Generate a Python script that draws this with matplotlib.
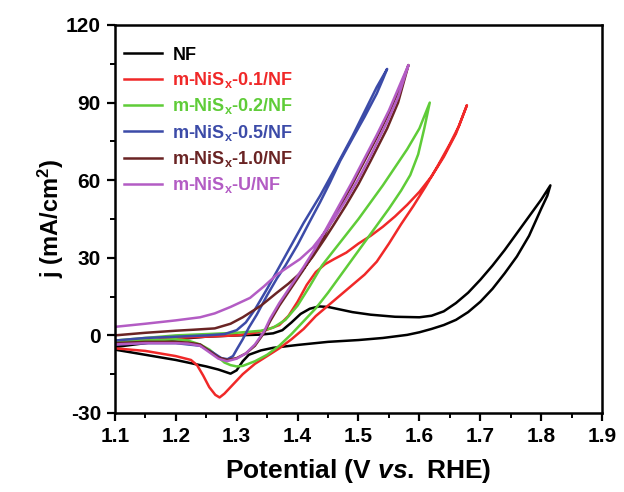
import numpy as np
import matplotlib
matplotlib.use("Agg")
import matplotlib.pyplot as plt
from matplotlib.ticker import MultipleLocator

plt.rcParams['font.family'] = ['Liberation Sans', 'DejaVu Sans']
plt.rcParams['mathtext.fontset'] = 'custom'
plt.rcParams['mathtext.rm'] = 'Liberation Sans:bold'
plt.rcParams['mathtext.it'] = 'Liberation Sans:bold:italic'
plt.rcParams['mathtext.bf'] = 'Liberation Sans:bold'
plt.rcParams['axes.unicode_minus'] = False

# --- dati (scansione andata + ritorno) ---
# NF
v_nf = [1.10, 1.15, 1.20, 1.25, 1.30, 1.34, 1.36, 1.375, 1.39, 1.405, 1.42, 1.435, 1.45, 1.47,
        1.49, 1.52, 1.56, 1.60, 1.62, 1.64, 1.66, 1.68, 1.70, 1.72, 1.74, 1.76, 1.78, 1.80, 1.815,
        1.81, 1.80, 1.78, 1.76, 1.74, 1.72, 1.70, 1.68, 1.66, 1.64, 1.62, 1.60, 1.58, 1.54, 1.50,
        1.45, 1.40, 1.36, 1.34, 1.32, 1.31, 1.30, 1.29, 1.27, 1.25, 1.20, 1.15, 1.10]
j_nf = [-4.5, -3.0, -1.5, -0.5, 0.0, 0.3, 0.8, 2.0, 5.0, 8.3, 10.3, 11.2, 11.0, 10.0,
        9.0, 8.0, 7.2, 7.0, 7.6, 9.3, 12.5, 16.5, 21.5, 27.0, 33.0, 39.5, 46.0, 52.5, 58.0,
        54.0, 49.0, 38.5, 30.5, 24.0, 18.0, 13.0, 9.0, 6.0, 4.0, 2.5, 1.2, 0.2, -1.0, -1.8,
        -2.5, -3.7, -4.8, -5.8, -7.5, -10.0, -13.5, -14.8, -13.2, -12.0, -9.5, -7.5, -5.5]

# m-NiSx-0.1/NF
v_01 = [1.10, 1.15, 1.20, 1.25, 1.30, 1.33, 1.35, 1.37, 1.385, 1.40, 1.415, 1.43, 1.445, 1.46,
        1.48, 1.50, 1.52, 1.54, 1.56, 1.58, 1.60, 1.62, 1.64, 1.66, 1.678,
        1.665, 1.65, 1.63, 1.61, 1.59, 1.57, 1.55, 1.53, 1.51, 1.49, 1.47, 1.45, 1.43, 1.41,
        1.39, 1.37, 1.35, 1.33, 1.31, 1.30, 1.29, 1.28, 1.272, 1.265, 1.255, 1.245, 1.235,
        1.225, 1.20, 1.15, 1.10]
j_01 = [-3.0, -2.0, -1.0, -0.5, 0.0, 1.0, 2.2, 4.0, 7.5, 13.0, 19.5, 24.5, 27.5, 29.5,
        32.0, 35.5, 38.5, 42.0, 46.0, 50.5, 55.5, 61.5, 69.0, 78.0, 89.0,
        81.0, 74.0, 65.5, 57.5, 50.0, 43.0, 35.5, 28.5, 23.5, 19.5, 15.5, 11.5, 7.5, 2.5,
        -1.5, -5.0, -8.0, -11.0, -15.0, -17.5, -20.0, -22.5, -24.0, -23.0, -20.0, -15.5, -11.5,
        -9.5, -8.0, -6.0, -5.0]

# m-NiSx-0.2/NF
v_02 = [1.10, 1.15, 1.20, 1.25, 1.30, 1.34, 1.36, 1.38, 1.40, 1.42, 1.44, 1.46, 1.48, 1.50,
        1.52, 1.54, 1.56, 1.58, 1.60, 1.617,
        1.608, 1.598, 1.585, 1.57, 1.55, 1.53, 1.51, 1.49, 1.47, 1.45, 1.43, 1.41, 1.39, 1.37,
        1.35, 1.33, 1.31, 1.30, 1.29, 1.28, 1.27, 1.256, 1.24, 1.22, 1.20, 1.15, 1.10]
j_02 = [-2.0, -1.0, 0.0, 0.5, 1.0, 1.8, 3.0, 6.0, 11.5, 19.0, 27.0, 33.0, 39.0, 45.0,
        51.5, 58.0, 65.0, 72.0, 80.0, 90.0,
        80.0, 70.0, 62.0, 56.0, 49.0, 42.5, 36.0, 29.5, 23.0, 16.5, 10.5, 5.5, 0.5, -4.0,
        -7.5, -10.0, -11.8, -12.0, -11.5, -10.5, -8.5, -5.6, -3.5, -2.0, -1.5, -2.0, -3.0]

# m-NiSx-0.5/NF
v_05 = [1.10, 1.15, 1.20, 1.25, 1.28, 1.30, 1.315, 1.33, 1.35, 1.37, 1.39, 1.41, 1.437, 1.465,
        1.49, 1.51, 1.53, 1.547,
        1.54, 1.53, 1.51, 1.491, 1.47, 1.453, 1.437, 1.42, 1.40, 1.38, 1.366, 1.35, 1.333,
        1.32, 1.31, 1.30, 1.294, 1.285, 1.275, 1.26, 1.24, 1.20, 1.15, 1.10]
j_05 = [-2.0, -1.0, -0.5, 0.0, 0.5, 2.0, 5.0, 10.0, 18.0, 26.5, 35.0, 43.5, 54.0, 66.0,
        77.0, 86.5, 96.0, 103.0,
        99.0, 93.5, 84.5, 76.5, 67.5, 59.0, 51.5, 44.0, 35.0, 27.0, 22.0, 15.5, 8.0,
        3.0, -1.5, -5.5, -8.0, -9.2, -8.8, -6.5, -4.0, -3.0, -3.0, -3.5]

# m-NiSx-1.0/NF
v_10 = [1.10, 1.15, 1.20, 1.23, 1.264, 1.29, 1.31, 1.34, 1.366, 1.385, 1.404, 1.425, 1.445,
        1.46, 1.48, 1.50, 1.52, 1.547, 1.565, 1.582,
        1.57, 1.55, 1.53, 1.51, 1.49, 1.47, 1.45, 1.43, 1.41, 1.39, 1.37, 1.355, 1.345, 1.33,
        1.315, 1.30, 1.284, 1.27, 1.255, 1.24, 1.22, 1.20, 1.15, 1.10]
j_10 = [0.0, 1.0, 1.8, 2.2, 2.7, 4.5, 7.0, 11.5, 16.5, 20.0, 24.0, 30.5, 37.5,
        43.0, 50.5, 58.5, 67.5, 80.0, 90.0, 104.5,
        97.0, 86.0, 76.5, 67.5, 58.5, 50.0, 41.5, 33.0, 25.5, 18.5, 11.5, 5.5, 1.0, -4.0,
        -7.0, -8.8, -9.5, -8.5, -6.0, -3.5, -2.8, -2.5, -2.5, -3.0]

# m-NiSx-U/NF
v_u = [1.10, 1.15, 1.20, 1.24, 1.264, 1.29, 1.322, 1.345, 1.366, 1.385, 1.404, 1.425, 1.445,
       1.46, 1.48, 1.50, 1.52, 1.547, 1.565, 1.582,
       1.57, 1.55, 1.53, 1.51, 1.49, 1.47, 1.45, 1.43, 1.41, 1.39, 1.37, 1.355, 1.345, 1.33,
       1.315, 1.30, 1.284, 1.27, 1.255, 1.24, 1.22, 1.20, 1.15, 1.10]
j_u = [3.3, 4.5, 5.8, 7.0, 8.5, 11.0, 14.5, 19.0, 23.5, 26.5, 29.5, 34.0, 40.0,
       45.0, 52.5, 60.5, 69.5, 82.5, 92.0, 104.5,
       98.0, 87.0, 77.5, 68.5, 59.5, 51.0, 42.5, 34.0, 26.5, 19.5, 12.5, 6.5, 1.5, -3.5,
       -7.0, -9.0, -10.0, -9.0, -6.5, -4.0, -3.2, -3.0, -3.0, -3.5]

labels = ['NF', 'm-NiS$_\\mathregular{x}$-0.1/NF', 'm-NiS$_\\mathregular{x}$-0.2/NF',
          'm-NiS$_\\mathregular{x}$-0.5/NF', 'm-NiS$_\\mathregular{x}$-1.0/NF',
          'm-NiS$_\\mathregular{x}$-U/NF']
colori = ['#000000', '#f02828', '#5fcc38', '#3c4ba8', '#6a2424', '#b35cc4']

serie_v = [v_nf, v_01, v_02, v_05, v_10, v_u]
serie_j = [j_nf, j_01, j_02, j_05, j_10, j_u]

fig = plt.figure(figsize=(6.24, 4.92), dpi=100)
ax = fig.add_axes([0.184, 0.1606, 0.781, 0.7886])

for v, j, c, l in zip(serie_v, serie_j, colori, labels):
    ax.plot(v, j, color=c, linewidth=1.8, label=l, solid_joinstyle='round')

ax.set_xlim(1.1, 1.9)
ax.set_ylim(-30, 120)
ax.xaxis.set_major_locator(MultipleLocator(0.1))
ax.xaxis.set_minor_locator(MultipleLocator(0.05))
ax.yaxis.set_major_locator(MultipleLocator(30))
ax.yaxis.set_minor_locator(MultipleLocator(15))
ax.tick_params(which='major', direction='out', length=6, width=1.6, labelsize=15, pad=4)
ax.tick_params(which='minor', direction='out', length=3.5, width=1.4)
for lab in ax.get_xticklabels() + ax.get_yticklabels():
    lab.set_fontweight('bold')
for s in ax.spines.values():
    s.set_linewidth(1.8)

ax.set_xlabel('Potential (V $\\mathit{vs.}$ RHE)', fontsize=19, fontweight='bold', labelpad=8)
ax.set_ylabel('j (mA/cm$^\\mathregular{2}$)', fontsize=17, fontweight='bold', labelpad=0)

leg = ax.legend(loc='upper left', bbox_to_anchor=(-0.004, 0.972), frameon=False,
                prop={'size': 13, 'weight': 'bold'}, handlelength=2.1, handletextpad=0.6,
                labelspacing=0.35, borderpad=0.3, borderaxespad=0.3, labelcolor='linecolor')

fig.savefig('out.png', dpi=100)
